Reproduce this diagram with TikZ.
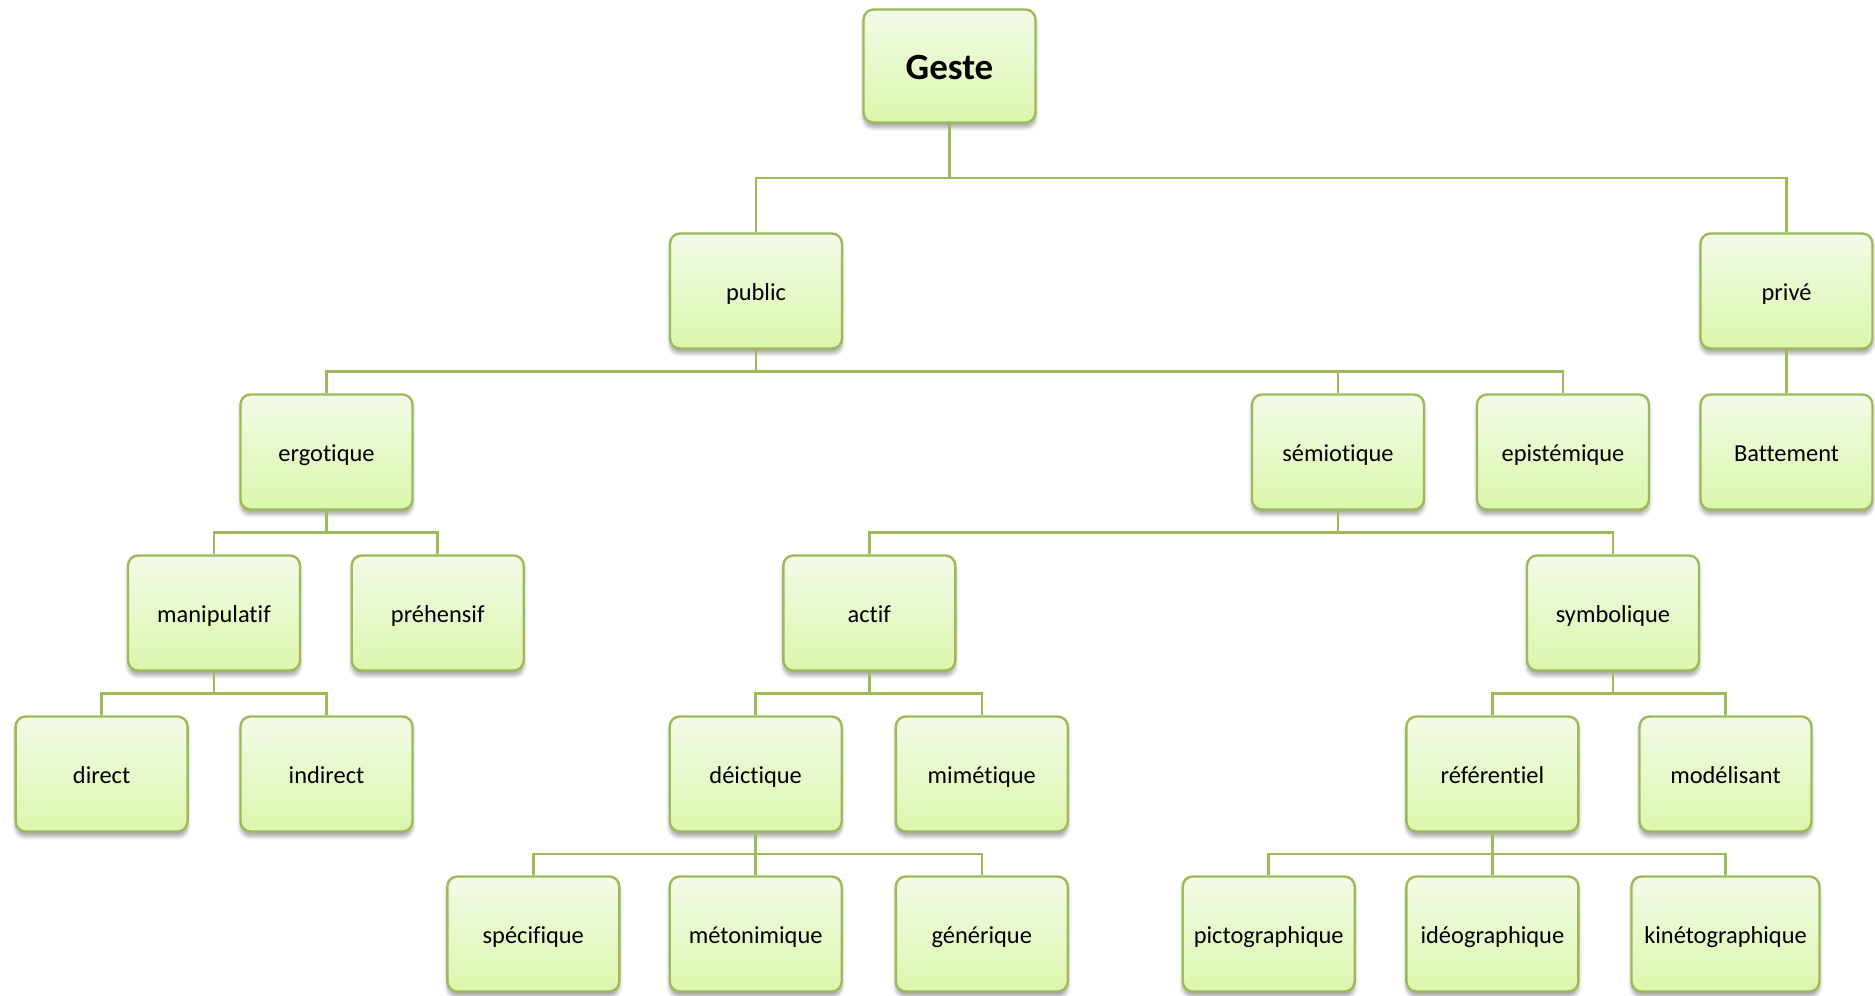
\documentclass[tikz,border=0pt]{standalone}
\usepackage{fontspec}
\setmainfont{Carlito}[Ligatures=NoCommon]
\usetikzlibrary{shadows.blur,calc}
\definecolor{olive}{RGB}{155,187,89}
\definecolor{boxtop}{RGB}{243,251,232}
\definecolor{boxbot}{RGB}{219,246,172}
\tikzset{
  box/.style={draw=olive, line width=1.2pt, rounded corners=5pt,
    top color=boxtop, bottom color=boxbot,
    minimum width=86pt, minimum height=57.5pt, inner sep=0pt,
    text height=11pt, text depth=1.4pt,
    font=\fontsize{12.2}{14}\selectfont,
    blur shadow={shadow xshift=0pt, shadow yshift=-2.5pt, shadow blur steps=6, shadow opacity=35}},
  link/.style={draw=olive, line width=1.3pt},
}
\newcommand{\tree}[2]{\draw[link] (#1.south) |- ($(#1.south)!.5!(#2.north)$) -| (#2.north);}
\begin{document}
\begin{tikzpicture}[x=0.5pt,y=-0.5pt]
\useasboundingbox (0,0) rectangle (1875,996);
\node[box, minimum height=56.5pt, text height=13pt, text depth=0pt, font=\fontsize{18.5}{22}\selectfont\bfseries] (geste) at (949.5,66) {Geste};
\node[box] (public) at (756,291) {public};
\node[box] (prive) at (1786.5,291) {privé};
\node[box] (ergotique) at (326.5,452) {ergotique};
\node[box] (semiotique) at (1338,452) {sémiotique};
\node[box] (epistemique) at (1563,452) {epistémique};
\node[box] (battement) at (1786.5,452) {Battement};
\node[box] (manipulatif) at (214,613) {manipulatif};
\node[box] (prehensif) at (437.7,613) {préhensif};
\node[box] (actif) at (869.3,613) {actif};
\node[box] (symbolique) at (1613,613) {symbolique};
\node[box] (direct) at (101.6,774) {direct};
\node[box] (indirect) at (326.5,774) {indirect};
\node[box] (deictique) at (755.7,774) {déictique};
\node[box] (mimetique) at (981.8,774) {mimétique};
\node[box] (referentiel) at (1492.4,774) {référentiel};
\node[box] (modelisant) at (1725.5,774) {modélisant};
\node[box] (specifique) at (533.3,934) {spécifique};
\node[box] (metonimique) at (755.7,934) {métonimique};
\node[box] (generique) at (981.8,934) {générique};
\node[box] (pictographique) at (1268.7,934) {pictographique};
\node[box] (ideographique) at (1492.4,934) {idéographique};
\node[box, minimum width=94pt] (kinetographique) at (1725.5,934) {kinétographique};
\tree{geste}{public}
\tree{geste}{prive}
\tree{public}{ergotique}
\tree{public}{semiotique}
\tree{public}{epistemique}
\draw[link] (prive.south) -- (battement.north);
\tree{ergotique}{manipulatif}
\tree{ergotique}{prehensif}
\tree{semiotique}{actif}
\tree{semiotique}{symbolique}
\tree{manipulatif}{direct}
\tree{manipulatif}{indirect}
\tree{actif}{deictique}
\tree{actif}{mimetique}
\tree{symbolique}{referentiel}
\tree{symbolique}{modelisant}
\tree{deictique}{specifique}
\tree{deictique}{metonimique}
\tree{deictique}{generique}
\tree{referentiel}{pictographique}
\tree{referentiel}{ideographique}
\tree{referentiel}{kinetographique}
\end{tikzpicture}
\end{document}
